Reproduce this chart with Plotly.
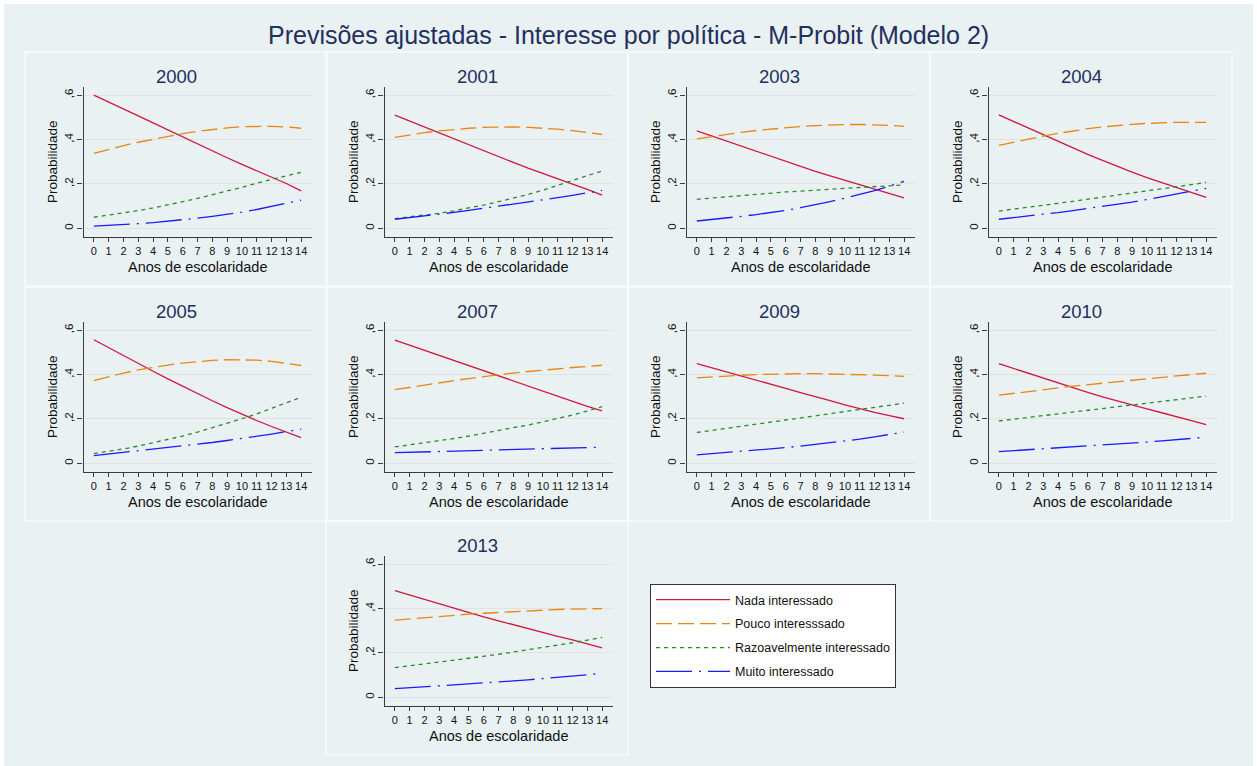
import plotly.graph_objects as go

# ---- data -------------------------------------------------------------
years = ["2000", "2001", "2003", "2004", "2005", "2007", "2009", "2010", "2013"]
escolaridade = list(range(15))
x_tick_labels = [str(v) for v in escolaridade]
y_tick_vals = [0, 0.2, 0.4, 0.6]
y_tick_labels = ["0", ",2", ",4", ",6"]

series_names = ["Nada interessado", "Pouco interesssado",
                "Razoavelmente interessado", "Muito interessado"]

nada = {
    "2000": [.600, .570, .539, .507, .475, .443, .411, .380, .349, .318, .288, .259, .232, .202, .169],
    "2001": [.510, .483, .457, .432, .405, .378, .350, .323, .297, .271, .246, .222, .199, .176, .150],
    "2003": [.439, .416, .392, .369, .346, .323, .300, .278, .257, .236, .216, .196, .176, .157, .137],
    "2004": [.511, .481, .452, .424, .393, .362, .333, .306, .279, .253, .229, .207, .186, .163, .140],
    "2005": [.557, .521, .485, .450, .415, .381, .347, .314, .282, .251, .221, .193, .166, .140, .116],
    "2007": [.555, .532, .509, .486, .463, .440, .417, .394, .370, .347, .325, .303, .279, .257, .236],
    "2009": [.449, .431, .413, .395, .376, .357, .338, .319, .302, .283, .264, .246, .230, .215, .201],
    "2010": [.449, .427, .405, .384, .362, .341, .320, .300, .281, .263, .245, .228, .209, .192, .175],
    "2013": [.481, .461, .441, .421, .401, .382, .363, .345, .327, .310, .292, .275, .259, .241, .223],
}
pouco = {
    "2000": [.338, .356, .373, .388, .402, .415, .427, .437, .446, .453, .458, .460, .460, .457, .451],
    "2001": [.410, .421, .431, .439, .446, .451, .455, .457, .457, .455, .452, .447, .440, .432, .423],
    "2003": [.403, .414, .424, .433, .441, .448, .454, .459, .463, .466, .468, .468, .467, .464, .460],
    "2004": [.374, .389, .403, .416, .428, .439, .449, .457, .464, .469, .473, .476, .478, .478, .478],
    "2005": [.373, .391, .407, .421, .433, .443, .452, .459, .464, .467, .467, .465, .460, .452, .441],
    "2007": [.332, .343, .353, .363, .373, .382, .391, .399, .407, .414, .421, .427, .432, .437, .442],
    "2009": [.385, .390, .394, .397, .400, .402, .403, .404, .404, .403, .402, .400, .398, .395, .392],
    "2010": [.307, .316, .324, .332, .340, .348, .355, .362, .369, .375, .382, .388, .394, .400, .406],
    "2013": [.348, .354, .360, .365, .370, .375, .379, .383, .387, .390, .393, .396, .398, .399, .400],
}
razoavel = {
    "2000": [.050, .059, .069, .080, .092, .105, .120, .135, .151, .168, .185, .203, .221, .237, .252],
    "2001": [.044, .051, .059, .068, .079, .091, .105, .120, .136, .153, .172, .193, .215, .237, .259],
    "2003": [.131, .137, .143, .149, .154, .159, .164, .168, .172, .176, .180, .184, .188, .192, .196],
    "2004": [.078, .086, .095, .104, .113, .122, .131, .140, .149, .158, .167, .177, .187, .197, .207],
    "2005": [.044, .054, .065, .078, .092, .107, .123, .141, .160, .180, .201, .223, .247, .272, .298],
    "2007": [.074, .083, .092, .102, .112, .123, .135, .147, .160, .173, .187, .202, .218, .236, .256],
    "2009": [.139, .148, .158, .167, .176, .186, .195, .204, .214, .224, .233, .243, .252, .262, .271],
    "2010": [.191, .199, .207, .215, .223, .231, .239, .247, .255, .263, .271, .279, .287, .295, .303],
    "2013": [.134, .142, .150, .158, .167, .176, .185, .194, .204, .214, .224, .235, .246, .258, .270],
}
muito = {
    "2000": [.010, .013, .017, .021, .026, .032, .039, .046, .054, .063, .073, .085, .098, .112, .127],
    "2001": [.041, .048, .056, .064, .072, .081, .090, .099, .108, .118, .128, .138, .149, .160, .171],
    "2003": [.033, .039, .046, .054, .062, .071, .081, .093, .106, .120, .136, .152, .170, .190, .212],
    "2004": [.041, .048, .055, .063, .071, .080, .089, .098, .108, .118, .130, .142, .154, .167, .180],
    "2005": [.035, .042, .049, .056, .063, .071, .078, .086, .094, .103, .112, .122, .132, .143, .154],
    "2007": [.048, .050, .052, .054, .056, .058, .059, .061, .063, .065, .066, .068, .070, .071, .073],
    "2009": [.038, .043, .048, .053, .058, .064, .071, .078, .085, .092, .100, .109, .119, .130, .141],
    "2010": [.053, .057, .061, .065, .069, .073, .077, .081, .086, .091, .096, .101, .106, .112, .118],
    "2013": [.039, .043, .047, .051, .055, .059, .064, .069, .074, .079, .084, .090, .096, .102, .108],
}

# ---- styling ------------------------------------------------------------
W, H = 1257, 766
FONT = "Liberation Sans, Arial, Helvetica, sans-serif"
BG = "#eaf1f3"
NAVY = "#22305e"
AXIS = "#3c3c3c"
GRID = "#e2e2e2"

styles = [
    dict(color="#d2163f", dash="solid"),
    dict(color="#e8870e", dash="16px,6px"),
    dict(color="#2a8a2a", dash="4px,4px"),
    dict(color="#1a1aff", dash="36px,7px,2px,7px"),
]
series_data = [nada, pouco, razoavel, muito]

# grid cell of each year (column, row)
cell_pos = {"2000": (0, 0), "2001": (1, 0), "2003": (2, 0), "2004": (3, 0),
            "2005": (0, 1), "2007": (1, 1), "2009": (2, 1), "2010": (3, 1),
            "2013": (1, 2)}
cell_left = [25, 326, 628, 930]
cell_top = [52, 287, 521]
CELL_W, CELL_H = 302, 234


def fx(px):
    return px / W


def fy(py):
    return 1 - py / H


fig = go.Figure()
shapes = [dict(type="rect", xref="paper", yref="paper",
               x0=fx(4), x1=fx(1253), y0=fy(766), y1=fy(4),
               fillcolor=BG, line=dict(width=0), layer="below")]
annotations = [dict(text="Previsões ajustadas - Interesse por política - M-Probit (Modelo 2)",
                    x=fx(628.5), y=fy(35), xref="paper", yref="paper",
                    xanchor="center", yanchor="middle", showarrow=False,
                    font=dict(family=FONT, size=25, color=NAVY))]
layout_axes = {}

for k, year in enumerate(years, start=1):
    col, row = cell_pos[year]
    L, T = cell_left[col], cell_top[row]
    px0, px1 = L + 58.5, L + 286.5
    py0, py1 = T + 35, T + 185

    shapes.append(dict(type="rect", xref="paper", yref="paper",
                       x0=fx(L), x1=fx(L + CELL_W), y0=fy(T + CELL_H), y1=fy(T),
                       line=dict(color="white", width=1), fillcolor="rgba(0,0,0,0)",
                       layer="below"))

    xa = "xaxis" if k == 1 else f"xaxis{k}"
    ya = "yaxis" if k == 1 else f"yaxis{k}"
    layout_axes[xa] = dict(
        domain=[fx(px0), fx(px1)], range=[-0.7, 14.7], anchor=f"y{k}",
        tickvals=escolaridade, ticktext=x_tick_labels, tickangle=0,
        ticks="outside", ticklen=4, tickwidth=1.2, tickcolor=AXIS,
        showline=True, linecolor=AXIS, linewidth=1.3,
        showgrid=False, zeroline=False,
        tickfont=dict(family=FONT, size=11, color="#111"),
    )
    layout_axes[ya] = dict(
        domain=[fy(py1), fy(py0)], range=[-0.039, 0.637], anchor=f"x{k}",
        tickvals=y_tick_vals, ticktext=y_tick_labels, tickangle=-90,
        ticks="outside", ticklen=5, tickwidth=1.2, tickcolor=AXIS,
        showline=True, linecolor=AXIS, linewidth=1.3,
        showgrid=True, gridcolor=GRID, gridwidth=1.3, zeroline=False,
        tickfont=dict(family=FONT, size=11.5, color="#111"),
    )

    # panel title and axis titles
    annotations.append(dict(text=year, x=fx(L + CELL_W / 2), y=fy(T + 24),
                            xref="paper", yref="paper", showarrow=False,
                            xanchor="center", yanchor="middle",
                            font=dict(family=FONT, size=18.5, color=NAVY)))
    annotations.append(dict(text="Anos de escolaridade", x=fx((px0 + px1) / 2), y=fy(T + 214.5),
                            xref="paper", yref="paper", showarrow=False,
                            xanchor="center", yanchor="middle",
                            font=dict(family=FONT, size=14.5, color="#111")))
    annotations.append(dict(text="Probabilidade", x=fx(L + 27), y=fy((py0 + py1) / 2),
                            xref="paper", yref="paper", showarrow=False, textangle=-90,
                            xanchor="center", yanchor="middle",
                            font=dict(family=FONT, size=13.5, color="#111")))

    for name, data, st in zip(series_names, series_data, styles):
        fig.add_trace(go.Scatter(
            x=escolaridade, y=data[year], mode="lines", name=name,
            legendgroup=name, showlegend=(k == 1),
            line=dict(color=st["color"], dash=st["dash"], width=1.3),
            xaxis=f"x{k}", yaxis=f"y{k}",
            hoverinfo="skip",
        ))

fig.update_layout(
    width=W, height=H,
    margin=dict(l=0, r=0, t=0, b=0),
    paper_bgcolor="white", plot_bgcolor="white",
    font=dict(family=FONT),
    shapes=shapes, annotations=annotations,
    showlegend=True,
    legend=dict(x=fx(650), y=fy(584), xanchor="left", yanchor="top",
                bgcolor="white", bordercolor="#333", borderwidth=1,
                font=dict(family=FONT, size=12.5, color="#111"),
                itemwidth=74, tracegroupgap=4.7, traceorder="grouped"),
    **layout_axes,
)

fig.write_html("out.html")
